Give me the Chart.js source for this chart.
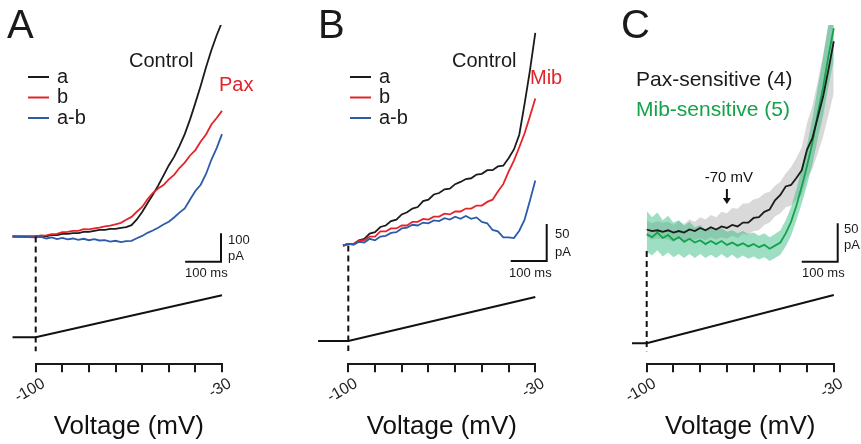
<!DOCTYPE html>
<html>
<head>
<meta charset="utf-8">
<script src="https://cdn.jsdelivr.net/npm/chart.js@4.4.1/dist/chart.umd.min.js"></script>
<style>
  html, body { margin: 0; padding: 0; background: #fff; }
  #wrap { position: relative; width: 861px; height: 444px; overflow: hidden; }
  canvas { position: absolute; top: 0; }
</style>
</head>
<body>
<div id="wrap">
  <canvas id="panelA" width="290" height="444" style="left:0px;width:290px;height:444px"></canvas>
  <canvas id="panelB" width="285" height="444" style="left:290px;width:285px;height:444px"></canvas>
  <canvas id="panelC" width="286" height="444" style="left:575px;width:286px;height:444px"></canvas>
</div>
<script>
// ---- data (currents in pA, x in mV of the ramp) ----
const axisTicks = [-100, -30];
const rampMs = 520;  // ramp -100 -> -30 mV

// Panel A: control (a), paxilline (b), difference (a-b)
const voltsA = [-108.7, -100, -98, -96, -94, -92, -90, -88, -86, -84, -82, -80, -78, -76, -74, -72, -70, -68,
  -66, -64, -62, -60, -58, -56, -54, -52, -50, -48, -46, -44, -42, -40, -38, -36, -34, -32, -30];
const ctrlA = [0, 1, 3, 1, 6, 5, 9, 9, 12, 12, 16, 16, 20, 23, 23, 27, 27, 30,
  33, 40, 60, 86, 117, 147, 179, 214, 250, 280, 318, 360, 412, 470, 530, 595, 655, 708, 754];
const paxA = [0, 0, 3, 4, 8, 9, 15, 16, 20, 20, 26, 25, 29, 31, 36, 38, 43, 48,
  59, 69, 87, 104, 131, 153, 169, 181, 201, 217, 241, 260, 285, 304, 334, 359, 394, 417, 442];
const diffA = [0, -3, -1, -7, -3, -9, -5, -10, -7, -12, -8, -13, -9, -14, -13, -18, -15, -20,
  -16, -15, -6, 2, 13, 21, 31, 42, 52, 67, 84, 99, 130, 160, 182, 220, 270, 311, 360];
const rampXA = [-108.7, -100, -30];
const rampA = [-100, -100, -30];

// Panel B: control (a), mibefradil (b), difference (a-b)
const voltsB = [-102, -100, -98, -96, -94, -92, -90, -88, -86, -84, -82, -80, -78, -76, -74, -72, -70, -68,
  -66, -64, -62, -60, -58, -56, -54, -52, -50, -48, -46, -44, -42, -40, -38, -36, -34, -32, -30];
const ctrlB = [0, 2, 2, 7, 9, 16, 18, 25, 27, 33, 35, 42, 45, 50, 52, 60, 62, 69,
  71, 76, 77, 83, 86, 90, 91, 96, 97, 102, 102, 107, 108, 118, 130, 150, 192, 237, 288];
const mibB = [-1, 2, 2, 7, 7, 12, 12, 19, 19, 23, 23, 27, 27, 32, 32, 36, 35, 39,
  39, 43, 42, 46, 46, 50, 50, 54, 54, 59, 62, 73, 83, 100, 115, 133, 152, 175, 199];
const diffB = [0, 2, 1, 5, 4, 9, 7, 12, 13, 17, 18, 23, 24, 28, 27, 31, 30, 34,
  33, 37, 35, 39, 36, 40, 36, 38, 32, 30, 21, 19, 11, 11, 10, 20, 35, 61, 88];
const rampXB = [-111.3, -100, -30];
const rampB = [-100, -100, -30];

// Panel C: mean +/- SEM of Pax-sensitive (n=4) and Mib-sensitive (n=5) currents
const voltsC = [-100, -98, -96, -94, -92, -90, -88, -86, -84, -82, -80, -78, -76, -74, -72, -70, -68,
  -66, -64, -62, -60, -58, -56, -54, -52, -50, -48, -46, -44, -42, -40, -38, -36, -34, -32, -30];
const paxMean = [0, -2, -1, -3, -1, -4, -2, -4, 0, -2, 2, -1, 3, 0, 4, 2, 6,
  4, 9, 9, 15, 16, 23, 26, 38, 45, 56, 58, 67, 77, 104, 119, 146, 173, 208, 245];
const paxUpper = [12, 8, 11, 9, 10, 6, 11, 7, 13, 10, 16, 13, 19, 16, 23, 21, 28,
  27, 34, 34, 39, 41, 47, 49, 57, 62, 73, 81, 93, 107, 139, 161, 193, 227, 267, 310];
const paxLower = [-9, -13, -12, -12, -13, -16, -12, -15, -11, -14, -11, -14, -10, -13, -10, -12, -8,
  -11, -6, -7, -2, -1, 6, 9, 17, 21, 29, 31, 39, 45, 67, 79, 99, 121, 149, 178];
const mibMean = [-6, -10, -4, -11, -7, -14, -10, -16, -12, -17, -14, -19, -15, -19, -15, -20, -17,
  -21, -18, -22, -19, -23, -20, -25, -21, -17, -5, 10, 31, 56, 83, 113, 151, 185, 226, 262];
const mibUpper = [24, 16, 22, 12, 18, 9, 12, 5, 10, 3, 6, 0, 4, -1, 2, -3, -1,
  -5, -2, -6, -4, -8, -5, -10, -6, -1, 12, 29, 52, 80, 110, 145, 185, 225, 268, 305];
const mibLower = [-29, -34, -27, -35, -30, -36, -32, -37, -32, -37, -32, -37, -33, -37, -32, -37, -33,
  -38, -34, -38, -35, -39, -36, -41, -37, -33, -22, -8, 12, 34, 58, 85, 118, 148, 186, 220];
const rampXC = [-105.5, -100, -30];
const rampC = [-100, -100, -30];

// ---- helpers ----
const FONT = '"Liberation Sans", Arial, Helvetica, sans-serif';
Chart.defaults.font.family = FONT;

const BLACK = '#1b1b1b', RED = '#e3242b', BLUE = '#2b5ba9', GREEN = '#15a24a';

function pts(xs, ys) {
  return xs.map((x, i) => ({ x: x, y: ys[i] }));
}

function trace(label, xs, ys, color, order) {
  return {
    label: label, data: pts(xs, ys), borderColor: color, borderWidth: 1.8,
    pointRadius: 0, fill: false, order: order,
    clip: { left: false, right: false, top: 0, bottom: false }
  };
}

function ramp(xs, ys) {
  return {
    label: 'ramp', data: pts(xs, ys), yAxisID: 'yv', borderColor: '#111', borderWidth: 2,
    pointRadius: 0, fill: false, order: 0,
    clip: { left: false, right: false, top: 0, bottom: false }
  };
}

// drawing of labels, legend, dashed line and scale bars
function decorPlugin(p) {
  return {
    id: 'decor',
    afterDraw(chart) {
      const ctx = chart.ctx;
      const xs = chart.scales.x, ys = chart.scales.y, yv = chart.scales.yv;
      ctx.save();

      // dashed marker at ramp start
      const x0 = xs.getPixelForValue(-100);
      ctx.strokeStyle = '#111';
      ctx.lineWidth = 2;
      ctx.setLineDash([6, 4]);
      ctx.beginPath();
      ctx.moveTo(x0, ys.getPixelForValue(p.dashFrom));
      ctx.lineTo(x0, yv.getPixelForValue(-100) + p.dashBelow);
      ctx.stroke();
      ctx.setLineDash([]);

      // scale bars
      const vLen = ys.getPixelForValue(0) - ys.getPixelForValue(p.barPA);
      const hLen = xs.getPixelForValue(-100 + 100 * 70 / rampMs) - xs.getPixelForValue(-100);
      const cx = p.bar[0], cy = p.bar[1];
      ctx.lineWidth = 2;
      ctx.beginPath();
      ctx.moveTo(cx - hLen, cy);
      ctx.lineTo(cx, cy);
      ctx.lineTo(cx, cy - vLen);
      ctx.stroke();

      ctx.textBaseline = 'middle';
      ctx.textAlign = 'left';

      // legend built from datasets
      if (p.legend) {
        chart.data.datasets.filter(d => d.inLegend).forEach((d, i) => {
          const y = p.legend.y + i * p.legend.dy;
          ctx.strokeStyle = d.borderColor;
          ctx.lineWidth = 2;
          ctx.beginPath();
          ctx.moveTo(p.legend.x, y);
          ctx.lineTo(p.legend.x + 21, y);
          ctx.stroke();
          ctx.fillStyle = '#1a1a1a';
          ctx.font = '20px ' + FONT;
          ctx.fillText(d.label, p.legend.x + 29, y);
        });
      }

      // arrow marker (panel C)
      if (p.arrow) {
        const ax = xs.getPixelForValue(p.arrow.v);
        ctx.strokeStyle = '#111';
        ctx.fillStyle = '#111';
        ctx.lineWidth = 2;
        ctx.beginPath();
        ctx.moveTo(ax, p.arrow.y0);
        ctx.lineTo(ax, p.arrow.y1 - 5);
        ctx.stroke();
        ctx.beginPath();
        ctx.moveTo(ax - 4, p.arrow.y1 - 6);
        ctx.lineTo(ax + 4, p.arrow.y1 - 6);
        ctx.lineTo(ax, p.arrow.y1);
        ctx.closePath();
        ctx.fill();
        ctx.font = '15px ' + FONT;
        ctx.textAlign = 'center';
        ctx.fillText(p.arrow.text, ax + 2, p.arrow.ty);
        ctx.textAlign = 'left';
      }

      // free texts
      p.texts.forEach(t => {
        ctx.font = t.size + 'px ' + FONT;
        ctx.fillStyle = t.color || '#1a1a1a';
        ctx.textBaseline = t.base || 'middle';
        ctx.fillText(t.text, t.x, t.y);
      });
      ctx.restore();
    }
  };
}

function makePanel(id, datasets, opt) {
  return new Chart(document.getElementById(id), {
    type: 'line',
    data: { datasets: datasets },
    options: {
      responsive: false,
      animation: false,
      layout: { padding: { left: opt.padL, right: opt.padR, top: 25, bottom: 2 } },
      plugins: { legend: { display: false }, tooltip: { enabled: false } },
      scales: {
        x: {
          type: 'linear', min: -100, max: -30,
          border: { display: true, color: '#1a1a1a', width: 2 },
          grid: { display: true, drawOnChartArea: false, drawTicks: true, tickLength: 8, color: '#1a1a1a', lineWidth: 2 },
          ticks: {
            stepSize: 10, autoSkip: false, minRotation: 30, maxRotation: 30, padding: 2, labelOffset: 8,
            color: '#222', font: { size: 16 },
            callback: v => axisTicks.includes(v) ? String(v) : ''
          },
          title: { display: true, text: 'Voltage (mV)', color: '#111', font: { size: 26 }, padding: { top: 2, bottom: 0 } }
        },
        y: { display: false, min: opt.yMin, max: opt.yMax },
        yv: { display: false, min: opt.vMin, max: opt.vMax }
      }
    },
    plugins: [decorPlugin(opt.decor)]
  });
}

// ---- panel A ----
const dsA = [
  trace('a', voltsA, ctrlA, BLACK, 2),
  trace('b', voltsA, paxA, RED, 1),
  trace('a-b', voltsA, diffA, BLUE, 0),
  ramp(rampXA, rampA)
];
dsA[0].inLegend = dsA[1].inLegend = dsA[2].inLegend = true;
makePanel('panelA', dsA, {
  padL: 35.7, padR: 68, yMin: -449, yMax: 744, vMin: -145, vMax: 421.7,
  decor: {
    dashFrom: 0, dashBelow: 14, barPA: 100, bar: [221, 261.7],
    legend: { x: 28, y: 77, dy: 20.5 },
    texts: [
      { text: 'A', x: 7, y: 38, size: 40, base: 'alphabetic' },
      { text: 'Control', x: 129, y: 61, size: 20 },
      { text: 'Pax', x: 219, y: 85, size: 20, color: RED },
      { text: '100', x: 228, y: 240, size: 13 },
      { text: 'pA', x: 228, y: 256, size: 13 },
      { text: '100 ms', x: 185, y: 273, size: 13 }
    ]
  }
});

// ---- panel B ----
const dsB = [
  trace('a', voltsB, ctrlB, BLACK, 2),
  trace('b', voltsB, mibB, RED, 1),
  trace('a-b', voltsB, diffB, BLUE, 0),
  ramp(rampXB, rampB)
];
dsB[0].inLegend = dsB[1].inLegend = dsB[2].inLegend = true;
makePanel('panelB', dsB, {
  padL: 58.3, padR: 39.7, yMin: -160.8, yMax: 298.6, vMin: -137.1, vMax: 403.8,
  decor: {
    dashFrom: 0, dashBelow: 10, barPA: 50, bar: [256.7, 261],
    legend: { x: 60, y: 77, dy: 20.5 },
    texts: [
      { text: 'B', x: 28, y: 38, size: 40, base: 'alphabetic' },
      { text: 'Control', x: 162, y: 61, size: 20 },
      { text: 'Mib', x: 240, y: 78, size: 20, color: RED },
      { text: '50', x: 265, y: 234, size: 13 },
      { text: 'pA', x: 265, y: 252, size: 13 },
      { text: '100 ms', x: 219, y: 273, size: 13 }
    ]
  }
});

// ---- panel C ----
const dsC = [
  trace('Pax-sensitive (4)', voltsC, paxMean, BLACK, 0),
  trace('Mib-sensitive (5)', voltsC, mibMean, GREEN, 1),
  { label: 'mib+', data: pts(voltsC, mibUpper), borderWidth: 0, pointRadius: 0, fill: false, order: 3 },
  { label: 'mib-', data: pts(voltsC, mibLower), borderWidth: 0, pointRadius: 0, fill: '-1', order: 3,
    backgroundColor: 'rgba(40,185,125,0.45)' },
  { label: 'pax+', data: pts(voltsC, paxUpper), borderWidth: 0, pointRadius: 0, fill: false, order: 4 },
  { label: 'pax-', data: pts(voltsC, paxLower), borderWidth: 0, pointRadius: 0, fill: '-1', order: 4,
    backgroundColor: 'rgba(150,150,150,0.36)' },
  ramp(rampXC, rampC)
];
makePanel('panelC', dsC, {
  padL: 71.7, padR: 27.2, yMin: -175.3, yMax: 266.2, vMin: -130.4, vMax: 362.3,
  decor: {
    dashFrom: -28, dashBelow: 8, barPA: 50, bar: [262.7, 261.7],
    arrow: { v: -70, y0: 189, y1: 204, ty: 178, text: '-70 mV' },
    texts: [
      { text: 'C', x: 46, y: 38, size: 40, base: 'alphabetic' },
      { text: 'Pax-sensitive (4)', x: 61, y: 80, size: 21 },
      { text: 'Mib-sensitive (5)', x: 61, y: 110, size: 21, color: GREEN },
      { text: '50', x: 269, y: 229, size: 13 },
      { text: 'pA', x: 269, y: 245, size: 13 },
      { text: '100 ms', x: 227, y: 273, size: 13 }
    ]
  }
});
</script>
</body>
</html>
